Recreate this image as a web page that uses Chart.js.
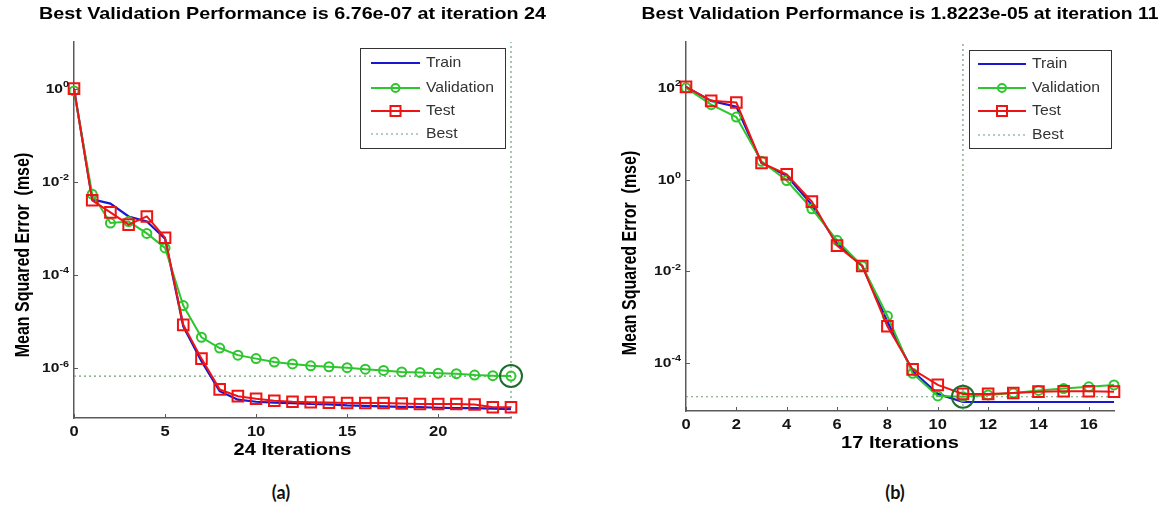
<!DOCTYPE html>
<html><head><meta charset="utf-8">
<script src="https://cdn.jsdelivr.net/npm/chart.js@4"></script>
<style>
html,body{margin:0;padding:0;background:#fff;width:1160px;height:509px;overflow:hidden;position:relative;}
canvas{position:absolute;top:0;}
#ca{left:0}
#cb{left:580px}
.cap{position:absolute;top:481px;font:bold 18px Lato,"Liberation Sans",sans-serif;color:#111;transform:translateX(-50%);}
</style></head><body>
<canvas id="ca" width="580" height="470"></canvas>
<canvas id="cb" width="580" height="470"></canvas>
<div class="cap" style="left:281px">(a)</div>
<div class="cap" style="left:895px">(b)</div>
<script>
// ---------- data : panel (a) ----------
const iterationsA = [0,1,2,3,4,5,6,7,8,9,10,11,12,13,14,15,16,17,18,19,20,21,22,23,24];
const trainA = [1.0,4.2e-3,3.4e-3,1.8e-3,1.4e-3,6.0e-4,7.9e-6,1.4e-6,3.2e-7,2.1e-7,1.9e-7,1.82e-7,1.78e-7,1.7e-7,1.66e-7,1.58e-7,1.55e-7,1.51e-7,1.48e-7,1.45e-7,1.41e-7,1.38e-7,1.38e-7,1.35e-7,1.32e-7];
const validationA = [0.89,5.4e-3,1.3e-3,1.4e-3,7.8e-4,3.8e-4,2.2e-5,4.6e-6,2.7e-6,1.9e-6,1.6e-6,1.35e-6,1.23e-6,1.12e-6,1.07e-6,1.02e-6,9.5e-7,8.9e-7,8.3e-7,8.1e-7,7.8e-7,7.6e-7,7.1e-7,6.9e-7,6.76e-7];
const testA = [1.0,4.0e-3,2.2e-3,1.2e-3,1.8e-3,6.3e-4,8.5e-6,1.6e-6,3.5e-7,2.5e-7,2.2e-7,2.0e-7,1.9e-7,1.86e-7,1.82e-7,1.78e-7,1.78e-7,1.78e-7,1.74e-7,1.7e-7,1.7e-7,1.7e-7,1.66e-7,1.45e-7,1.45e-7];
const bestIterA = 24;
const bestValueA = 6.76e-7;
const xTicksA = [0,5,10,15,20];
const yTicksA = [1e0,1e-2,1e-4,1e-6];
const yTickLabelsA = ['10^0','10^-2','10^-4','10^-6'];
const titleA = 'Best Validation Performance is 6.76e-07 at iteration 24';
const xTitleA = '24 Iterations';

// ---------- data : panel (b) ----------
const iterationsB = [0,1,2,3,4,5,6,7,8,9,10,11,12,13,14,15,16,17];
const trainB = [105,52,39,2.3,1.2,0.28,0.040,0.013,7.9e-4,6.6e-5,2.1e-5,1.4e-5,1.4e-5,1.4e-5,1.4e-5,1.4e-5,1.4e-5,1.4e-5];
const validationB = [100,43,23,2.5,0.95,0.23,0.047,0.013,1.05e-3,5.9e-5,1.9e-5,1.8223e-5,2.0e-5,2.2e-5,2.5e-5,2.75e-5,3.0e-5,3.3e-5];
const testB = [105,52,48,2.3,1.3,0.33,0.036,0.013,6.3e-4,7.2e-5,3.3e-5,2.1e-5,2.1e-5,2.2e-5,2.35e-5,2.4e-5,2.4e-5,2.35e-5];
const bestIterB = 11;
const bestValueB = 1.8223e-5;
const xTicksB = [0,2,4,6,8,10,12,14,16];
const yTicksB = [1e2,1e0,1e-2,1e-4];
const yTickLabelsB = ['10^2','10^0','10^-2','10^-4'];
const titleB = 'Best Validation Performance is 1.8223e-05 at iteration 11';
const xTitleB = '17 Iterations';

const yTitle = 'Mean Squared Error  (mse)';
const legendLabels = ['Train','Validation','Test','Best'];

// ---------- styles ----------
const C_TRAIN = '#1818d0', C_VAL = '#2ec62e', C_TEST = '#ee1414', C_BEST = '#6f9c7a', C_BESTPT = '#1c6e2e';
const AXIS = '#5a5a5a', TXT = '#141414';

function sText(ctx, str, x, y, font, sx, align, color) {
  ctx.save();
  ctx.font = font; ctx.textBaseline = 'middle'; ctx.textAlign = 'left';
  const w = ctx.measureText(str).width * sx;
  const x0 = align === 'center' ? x - w / 2 : align === 'right' ? x - w : x;
  ctx.translate(x0, y); ctx.scale(sx, 1);
  ctx.fillStyle = color || TXT; ctx.fillText(str, 0, 0);
  ctx.restore();
  return w;
}

function makeChart(id, D, L) {
  const pts = (xs, ys) => xs.map((x, i) => ({x, y: ys[i]}));
  const decor = {
    id: 'decor',
    beforeDatasetsDraw(chart) {
      const ctx = chart.ctx, xs = chart.scales.x, ys = chart.scales.y, a = chart.chartArea;
      ctx.save(); ctx.strokeStyle = AXIS; ctx.lineWidth = 1;
      D.xTicks.forEach(v => { const px = Math.round(xs.getPixelForValue(v)) + 0.5; ctx.beginPath(); ctx.moveTo(px, a.bottom); ctx.lineTo(px, a.bottom - 4); ctx.stroke(); });
      D.yTicks.forEach(v => { const py = Math.round(ys.getPixelForValue(v)) + 0.5; ctx.beginPath(); ctx.moveTo(a.left, py); ctx.lineTo(a.left + 4, py); ctx.stroke(); });
      ctx.restore();
    },
    afterDraw(chart) {
      const ctx = chart.ctx, xs = chart.scales.x, ys = chart.scales.y, a = chart.chartArea;
      // x tick labels
      D.xTicks.forEach(v => sText(ctx, String(v), xs.getPixelForValue(v), a.bottom + 14, 'bold 15px "Liberation Sans"', 1.1, 'center'));
      // y tick labels with superscript exponent
      D.yTicks.forEach((v, i) => {
        const [base, ex] = D.yTickLabels[i].split('^');
        const py = ys.getPixelForValue(v);
        ctx.save(); ctx.font = 'bold 12px "Liberation Sans"'; const wb = ctx.measureText(base).width * 1.3;
        ctx.font = 'bold 9px "Liberation Sans"'; const we = ctx.measureText(ex).width * 1.2; ctx.restore();
        const right = a.left - 5;
        sText(ctx, base, right - we - wb, py + 1, 'bold 12px "Liberation Sans"', 1.3, 'left');
        sText(ctx, ex, right - we, py - 4, 'bold 9px "Liberation Sans"', 1.2, 'left');
      });
      // titles
      ctx.save(); ctx.font = 'bold 17px "Liberation Sans"';
      const tw = ctx.measureText(D.title).width; ctx.restore();
      sText(ctx, D.title, (a.left + a.right) / 2, 14, 'bold 17px "Liberation Sans"', L.titleWidth / tw, 'center', '#000');
      sText(ctx, D.xTitle, (a.left + a.right) / 2, a.bottom + 33, 'bold 16px "Liberation Sans"', 1.25, 'center', '#000');
      ctx.save();
      ctx.translate(L.yTitleX, L.yTitleY); ctx.rotate(-Math.PI / 2); ctx.scale(1, 1.3);
      ctx.font = 'bold 16px "Liberation Sans"'; ctx.textAlign = 'center'; ctx.textBaseline = 'middle';
      ctx.fillStyle = '#000'; ctx.fillText(yTitle, 0, 0);
      ctx.restore();
      // legend
      const B = L.legend;
      ctx.save();
      ctx.fillStyle = '#fff'; ctx.fillRect(B.x, B.y, B.w, B.h);
      ctx.strokeStyle = '#333'; ctx.lineWidth = 1; ctx.strokeRect(B.x + 0.5, B.y + 0.5, B.w, B.h);
      const styles = [
        {c: C_TRAIN, w: 2, dash: [], m: null},
        {c: C_VAL, w: 2, dash: [], m: 'circle'},
        {c: C_TEST, w: 2, dash: [], m: 'rect'},
        {c: C_BEST, w: 1, dash: [2, 3], m: null}
      ];
      legendLabels.forEach((lab, i) => {
        const s = styles[i], y = B.rows[i];
        ctx.strokeStyle = s.c; ctx.lineWidth = s.w; ctx.setLineDash(s.dash);
        ctx.beginPath(); ctx.moveTo(B.x1, y); ctx.lineTo(B.x2, y); ctx.stroke();
        ctx.setLineDash([]);
        const mx = (B.x1 + B.x2) / 2;
        ctx.lineWidth = 2;
        if (s.m === 'circle') { ctx.beginPath(); ctx.arc(mx, y, 4, 0, Math.PI * 2); ctx.stroke(); }
        if (s.m === 'rect') { ctx.strokeRect(mx - 5, y - 5, 10, 10); }
        sText(ctx, lab, B.tx, y, '15px "Liberation Sans"', 1.05, 'left', '#333');
      });
      ctx.restore();
    }
  };
  return new Chart(document.getElementById(id), {
    type: 'line',
    data: {
      datasets: [
        {label: 'bestH', data: [{x: L.xMin, y: D.bestValue}, {x: L.xMax, y: D.bestValue}], borderColor: C_BEST, borderWidth: 1.2, borderDash: [2, 3], pointRadius: 0, order: 6, clip: false},
        {label: 'bestV', data: [{x: D.bestIter, y: L.yMin}, {x: D.bestIter, y: L.yMax}], borderColor: C_BEST, borderWidth: 1.2, borderDash: [2, 3], pointRadius: 0, order: 6, clip: false},
        {label: 'Train', data: pts(D.iterations, D.train), borderColor: C_TRAIN, borderWidth: 2.2, pointRadius: 0, order: 4, clip: false},
        {label: 'Validation', data: pts(D.iterations, D.validation), borderColor: C_VAL, borderWidth: 2, pointStyle: 'circle', pointRadius: 4.5, pointBorderWidth: 2, pointBorderColor: C_VAL, pointBackgroundColor: 'rgba(0,0,0,0)', order: 3, clip: false},
        {label: 'Test', data: pts(D.iterations, D.test), borderColor: C_TEST, borderWidth: 2, pointStyle: 'rect', pointRadius: 7.5, pointBorderWidth: 2, pointBorderColor: C_TEST, pointBackgroundColor: 'rgba(0,0,0,0)', order: 2, clip: false},
        {label: 'bestPoint', data: [{x: D.bestIter, y: D.bestValue}], showLine: false, pointStyle: 'circle', pointRadius: 11, pointBorderWidth: 2, pointBorderColor: C_BESTPT, pointBackgroundColor: 'rgba(0,0,0,0)', order: 1, clip: false}
      ]
    },
    options: {
      responsive: false, animation: false, events: [],
      elements: {line: {tension: 0}},
      layout: {padding: {left: 0, top: L.top, right: L.padRight, bottom: 0}},
      plugins: {legend: {display: false}, tooltip: {enabled: false}, title: {display: false}},
      scales: {
        x: {type: 'linear', min: L.xMin, max: L.xMax,
            grid: {display: false, drawTicks: false}, border: {display: true, color: AXIS, width: 1.5},
            ticks: {display: false},
            afterBuildTicks: s => { s.ticks = D.xTicks.map(v => ({value: v})); },
            afterFit: s => { s.height = L.xAxisH; }},
        y: {type: 'logarithmic', min: L.yMin, max: L.yMax,
            grid: {display: false, drawTicks: false}, border: {display: true, color: AXIS, width: 1.5},
            ticks: {display: false},
            afterBuildTicks: s => { s.ticks = D.yTicks.map(v => ({value: v})); },
            afterFit: s => { s.width = L.yAxisW; }}
      }
    },
    plugins: [decor]
  });
}

makeChart('ca',
  {iterations: iterationsA, train: trainA, validation: validationA, test: testA, bestIter: bestIterA, bestValue: bestValueA,
   xTicks: xTicksA, yTicks: yTicksA, yTickLabels: yTickLabelsA, title: titleA, xTitle: xTitleA},
  {xMin: 0, xMax: 24, yMin: 8.5e-8, yMax: 10, top: 42, padRight: 69, yAxisW: 74, xAxisH: 52,
   titleWidth: 507, yTitleX: 23, yTitleY: 255,
   legend: {x: 360, y: 48, w: 145, h: 100, rows: [63, 88, 111, 134], x1: 371, x2: 420, tx: 426}});

makeChart('cb',
  {iterations: iterationsB, train: trainB, validation: validationB, test: testB, bestIter: bestIterB, bestValue: bestValueB,
   xTicks: xTicksB, yTicks: yTicksB, yTickLabels: yTickLabelsB, title: titleB, xTitle: xTitleB},
  {xMin: 0, xMax: 17, yMin: 8.9e-6, yMax: 1000, top: 42, padRight: 46, yAxisW: 106, xAxisH: 59,
   titleWidth: 517, yTitleX: 50, yTitleY: 253,
   legend: {x: 389, y: 50, w: 142, h: 98, rows: [64, 88, 111, 135], x1: 398, x2: 446, tx: 452}});
</script>
</body></html>
